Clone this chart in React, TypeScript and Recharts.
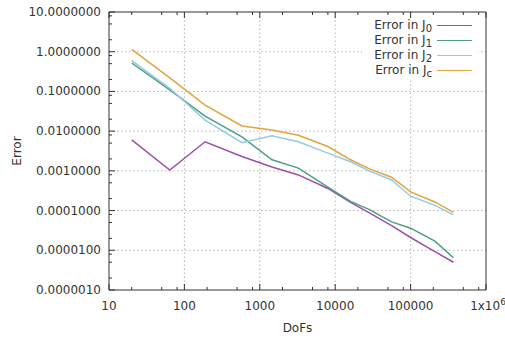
import { LineChart, Line, XAxis, YAxis, ReferenceLine, Label } from 'recharts';

// DoFs of each refinement step
const dofs = [20, 64, 188, 580, 1450, 3250, 8000, 16000, 28000, 56000, 100000, 210000, 370000];

const errJ0 = [0.006, 0.00105, 0.0054, 0.0023, 0.00125, 0.00079, 0.00036, 0.00016, 0.000089, 0.000042, 0.000021, 0.0000093, 0.000005];
const errJ1 = [0.52, 0.11, 0.024, 0.0072, 0.0019, 0.00117, 0.00039, 0.00017, 0.000107, 0.000052, 0.000036, 0.000017, 0.0000065];
const errJ2 = [0.6, 0.12, 0.019, 0.0051, 0.0076, 0.0054, 0.0028, 0.0017, 0.001, 0.00059, 0.00023, 0.000135, 0.000078];
const errJc = [1.15, 0.22, 0.045, 0.0135, 0.0107, 0.0079, 0.0041, 0.0019, 0.00114, 0.00069, 0.000295, 0.000165, 0.00009];

const xMajor = [10, 100, 1000, 10000, 100000, 1000000];
const yMajor = [0.000001, 0.00001, 0.0001, 0.001, 0.01, 0.1, 1, 10];
const minorSteps = [2, 5, 8];

const xTicks = [
  ...xMajor,
  ...xMajor.slice(0, -1).flatMap((d) => minorSteps.map((m) => d * m)),
];
const yTicks = [
  ...yMajor,
  ...yMajor.slice(0, -1).flatMap((d) => minorSteps.map((m) => d * m)),
];

const series = [
  { key: 'j0', sub: '0', color: '#9b51a9' },
  { key: 'j1', sub: '1', color: '#4f9e82' },
  { key: 'j2', sub: '2', color: '#95c9e4' },
  { key: 'jc', sub: 'c', color: '#e2a53a' },
];

const data = dofs.map((d, i) => ({
  dofs: d,
  j0: errJ0[i],
  j1: errJ1[i],
  j2: errJ2[i],
  jc: errJc[i],
}));

const axisColor = '#333';
const font = '"DejaVu Sans", sans-serif';
const gridColor = '#b4b4b4';

const isMajor = (list: number[], v: number) => list.some((m) => Math.abs(m - v) / m < 1e-9);

const BottomTick = ({ x, y, payload }: any) => {
  const v = payload.value;
  const major = isMajor(xMajor, v);
  return (
    <g>
      <line x1={x} x2={x} y1={y} y2={y - (major ? 6 : 3)} stroke={axisColor} />
      {major && v >= 1000000 && (
        <text x={x + 2} y={y + 20} textAnchor="middle" fontSize={12} fontFamily={font} fill={axisColor}>
          1x10<tspan dy={-5} fontSize={9}>6</tspan>
        </text>
      )}
      {major && v < 1000000 && (
        <text x={x} y={y + 20} textAnchor="middle" fontSize={12} fontFamily={font} fill={axisColor}>
          {v}
        </text>
      )}
    </g>
  );
};

const TopTick = ({ x, y, payload }: any) => {
  const major = isMajor(xMajor, payload.value);
  return <line x1={x} x2={x} y1={y} y2={y + (major ? 6 : 3)} stroke={axisColor} />;
};

const LeftTick = ({ x, y, payload }: any) => {
  const v = payload.value;
  const major = isMajor(yMajor, v);
  return (
    <g>
      <line x1={x} x2={x + (major ? 6 : 3)} y1={y} y2={y} stroke={axisColor} />
      {major && (
        <text x={x - 8} y={y + 4} textAnchor="end" fontSize={12} fontFamily={font} fill={axisColor}>
          {v.toFixed(7)}
        </text>
      )}
    </g>
  );
};

const RightTick = ({ x, y, payload }: any) => {
  const major = isMajor(yMajor, payload.value);
  return <line x1={x} x2={x - (major ? 6 : 3)} y1={y} y2={y} stroke={axisColor} />;
};

function ChartLegend() {
  return (
    <div
      style={{
        position: 'absolute',
        left: 362,
        top: 18,
        width: 116,
        background: '#fff',
        fontFamily: font,
        fontSize: 12,
        color: axisColor,
      }}
    >
      {series.map((s) => (
        <div key={s.key} style={{ height: 15, display: 'flex', alignItems: 'center', justifyContent: 'flex-end' }}>
          <span style={{ whiteSpace: 'nowrap', lineHeight: '15px' }}>
            Error in J
            <span style={{ fontSize: 10, position: 'relative', top: 3 }}>{s.sub}</span>
          </span>
          <span style={{ display: 'inline-block', width: 35, height: 0, borderTop: `1.5px solid ${s.color}`, marginLeft: 5, marginRight: 6 }} />
        </div>
      ))}
    </div>
  );
}

export default function App() {
  return (
    <div style={{ position: 'absolute', left: 0, top: 0, width: 505, height: 339, background: '#fff' }}>
      <LineChart width={505} height={339} data={data} margin={{ top: 0, right: 0, bottom: 0, left: 0 }}>
        <XAxis
          xAxisId="bottom"
          orientation="bottom"
          dataKey="dofs"
          type="number"
          scale="log"
          domain={[10, 1000000]}
          ticks={xTicks}
          interval={0}
          height={49}
          tickSize={0}
          tickMargin={0}
          tickLine={false}
          tick={<BottomTick />}
          axisLine={{ stroke: axisColor }}
        >
          <Label
            content={({ viewBox }: any) => (
              <text
                x={viewBox.x + viewBox.width / 2}
                y={viewBox.y + 42}
                textAnchor="middle"
                fontSize={12}
                fontFamily={font}
                fill={axisColor}
              >
                DoFs
              </text>
            )}
          />
        </XAxis>
        <XAxis
          xAxisId="top"
          orientation="top"
          dataKey="dofs"
          type="number"
          scale="log"
          domain={[10, 1000000]}
          ticks={xTicks}
          interval={0}
          height={12}
          tickSize={0}
          tickMargin={0}
          tickLine={false}
          tick={<TopTick />}
          axisLine={{ stroke: axisColor }}
        />
        <YAxis
          yAxisId="left"
          type="number"
          scale="log"
          domain={[0.000001, 10]}
          ticks={yTicks}
          interval={0}
          width={109}
          tickSize={0}
          tickMargin={0}
          tickLine={false}
          tick={<LeftTick />}
          axisLine={{ stroke: axisColor }}
        >
          <Label
            content={({ viewBox }: any) => {
              const cx = viewBox.x + 17;
              const cy = viewBox.y + viewBox.height / 2;
              return (
                <text
                  x={cx}
                  y={cy}
                  transform={`rotate(-90 ${cx} ${cy})`}
                  textAnchor="middle"
                  dominantBaseline="central"
                  fontSize={12}
                  fontFamily={font}
                  fill={axisColor}
                >
                  Error
                </text>
              );
            }}
          />
        </YAxis>
        <YAxis
          yAxisId="right"
          orientation="right"
          type="number"
          scale="log"
          domain={[0.000001, 10]}
          ticks={yTicks}
          interval={0}
          width={19}
          tickSize={0}
          tickMargin={0}
          tickLine={false}
          tick={<RightTick />}
          axisLine={{ stroke: axisColor }}
        />
        {xMajor.slice(1, -1).map((v) => (
          <ReferenceLine key={`gx${v}`} x={v} xAxisId="bottom" yAxisId="left" stroke={gridColor} strokeDasharray="1.5 2.5" />
        ))}
        {yMajor.slice(1, -1).map((v) => (
          <ReferenceLine key={`gy${v}`} y={v} xAxisId="bottom" yAxisId="left" stroke={gridColor} strokeDasharray="1.5 2.5" />
        ))}
        {series.map((s) => (
          <Line
            key={s.key}
            xAxisId="bottom"
            yAxisId="left"
            dataKey={s.key}
            type="linear"
            stroke={s.color}
            strokeWidth={1.5}
            dot={false}
            isAnimationActive={false}
          />
        ))}
      </LineChart>
      <ChartLegend />
    </div>
  );
}
